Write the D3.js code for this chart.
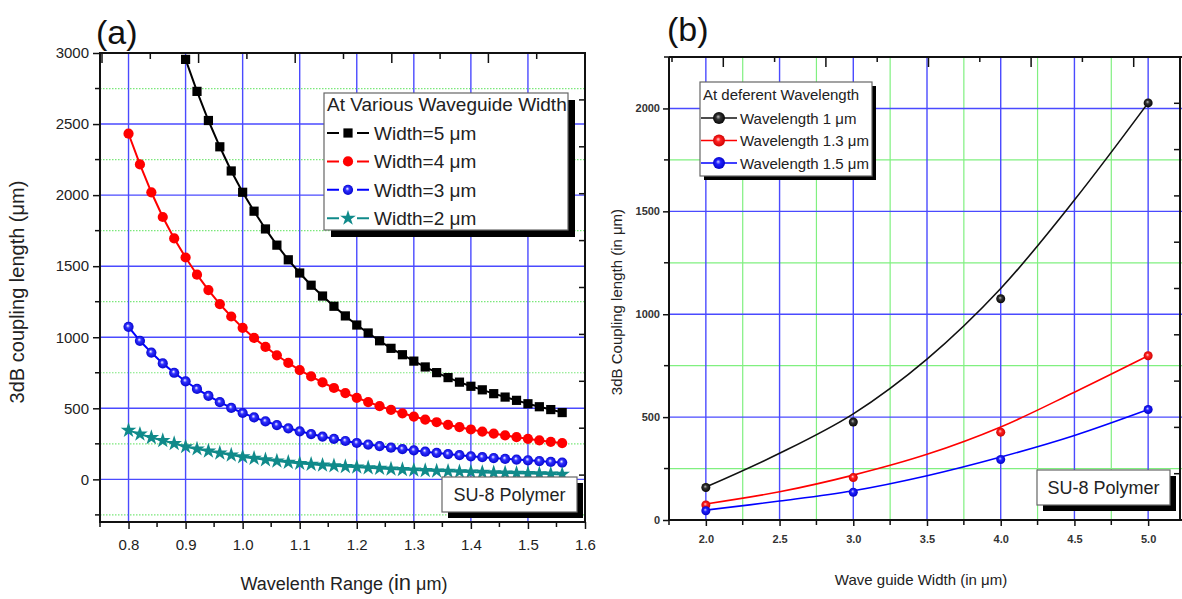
<!DOCTYPE html>
<html>
<head>
<meta charset="utf-8">
<script src="https://cdn.jsdelivr.net/npm/d3@7"></script>
<style>
  html, body { margin: 0; padding: 0; background: #fff; }
  svg { display: block; font-family: 'Liberation Sans', Arial, sans-serif; }
</style>
</head>
<body>
<svg id="chart" width="1182" height="599"></svg>
<script>
// ---------- panel (a) data: coupling length vs wavelength ----------
const wavelength = [0.80, 0.82, 0.84, 0.86, 0.88, 0.90, 0.92, 0.94, 0.96, 0.98,
                    1.00, 1.02, 1.04, 1.06, 1.08, 1.10, 1.12, 1.14, 1.16, 1.18,
                    1.20, 1.22, 1.24, 1.26, 1.28, 1.30, 1.32, 1.34, 1.36, 1.38,
                    1.40, 1.42, 1.44, 1.46, 1.48, 1.50, 1.52, 1.54, 1.56];
const width5 = [null, null, null, null, null, 2955, 2730, 2525, 2340, 2170,
                2020, 1887, 1762, 1648, 1545, 1452, 1366, 1290, 1218, 1150,
                1086, 1030, 975, 922, 877, 832, 791, 751, 716, 684,
                655, 630, 603, 579, 556, 532, 511, 491, 470];
const width4 = [2432, 2216, 2020, 1846, 1695, 1561, 1440, 1332, 1233, 1146,
                1066, 995, 932, 873, 819, 769, 724, 682, 643, 607,
                574, 544, 515, 489, 465, 442, 421, 402, 384, 367,
                351, 336, 322, 309, 297, 285, 274, 264, 255];
const width3 = [1073, 975, 892, 816, 750, 690, 636, 588, 543, 503,
                467, 436, 408, 382, 359, 338, 319, 301, 285, 270,
                256, 245, 234, 223, 213, 204, 195, 186, 178, 170,
                162, 156, 150, 144, 139, 134, 129, 123, 118];
const width2 = [345, 318, 294, 273, 252, 230, 214, 199, 185, 171,
                158, 148, 138, 129, 120, 112, 106, 100, 95, 90,
                86, 81, 77, 73, 69, 65, 62, 59, 57, 54,
                52, 49, 47, 45, 43, 41, 39, 37, 35];
const legendA = ['Width=5 \u03bcm', 'Width=4 \u03bcm', 'Width=3 \u03bcm', 'Width=2 \u03bcm'];
const xTicksA = [0.8, 0.9, 1.0, 1.1, 1.2, 1.3, 1.4, 1.5, 1.6];
const xMinorA = [0.75, 0.85, 0.95, 1.05, 1.15, 1.25, 1.35, 1.45, 1.55];
const yTicksA = [0, 500, 1000, 1500, 2000, 2500, 3000];
const yMinorA = [-250, 250, 750, 1250, 1750, 2250, 2750];

// ---------- panel (b) data: coupling length vs waveguide width ----------
const guideWidth = [2.0, 3.0, 4.0, 5.0];
const wl10 = [158, 476, 1075, 2027];
const wl13 = [73, 206, 427, 798];
const wl15 = [45, 135, 294, 537];
const fitWidth = [2.0, 2.5, 3.0, 3.5, 4.0, 4.5, 5.0];
const fit10 = [160, 324, 516, 782, 1125, 1555, 2027];
const fit13 = [78, 137, 218, 319, 452, 621, 798];
const fit15 = [48, 92, 142, 215, 306, 411, 537];
const legendB = ['Wavelength 1 \u03bcm', 'Wavelength 1.3 \u03bcm', 'Wavelength 1.5 \u03bcm'];
const xTicksB = [2.0, 2.5, 3.0, 3.5, 4.0, 4.5, 5.0];
const xMinorB = [1.75, 2.25, 2.75, 3.25, 3.75, 4.25, 4.75, 5.25];
const yTicksB = [0, 500, 1000, 1500, 2000];
const yMinorB = [250, 750, 1250, 1750, 2250];

const svg = d3.select('#chart');
const defs = svg.append('defs');

function ballGradient(id, hi, mid, edge) {
  const g = defs.append('radialGradient').attr('id', id)
    .attr('cx', '50%').attr('cy', '50%').attr('r', '55%').attr('fx', '42%').attr('fy', '38%');
  g.append('stop').attr('offset', '0%').attr('stop-color', hi);
  g.append('stop').attr('offset', '35%').attr('stop-color', mid);
  g.append('stop').attr('offset', '100%').attr('stop-color', edge);
}
ballGradient('ballBlueA', '#ffffff', '#3030ff', '#0000c8');
ballGradient('ballBlack', '#bbbbbb', '#333333', '#000000');
ballGradient('ballRed', '#ffd0d0', '#ff2020', '#c80000');
ballGradient('ballBlue', '#d0d0ff', '#2020ff', '#0000c0');

function clip(id, x0, y0, x1, y1) {
  defs.append('clipPath').attr('id', id).append('rect')
    .attr('x', x0).attr('y', y0).attr('width', x1 - x0).attr('height', y1 - y0);
}

function shadowBox(g, x, y, w, h, off) {
  g.append('rect').attr('x', x + off).attr('y', y + off).attr('width', w).attr('height', h).attr('fill', '#000');
  g.append('rect').attr('x', x).attr('y', y).attr('width', w).attr('height', h)
    .attr('fill', '#fff').attr('stroke', '#666').attr('stroke-width', 1.2);
}

function styleAxis(sel, size, color) {
  sel.select('.domain').remove();
  sel.selectAll('.tick line').attr('stroke', '#111').attr('stroke-width', 1.5);
  sel.selectAll('.tick text').attr('font-size', size).attr('fill', color)
    .attr('font-family', "'Liberation Sans', Arial, sans-serif");
}

// ================= panel (a) =================
const xA = d3.scaleLinear([0.75, 1.6], [100, 585]);
const yA = d3.scaleLinear([-300, 3000], [522, 53]);
clip('clipA', 100, 53, 585, 522);
const gA = svg.append('g');

// grid
gA.append('g').selectAll('line').data(yMinorA).join('line')
  .attr('x1', 100).attr('x2', 585).attr('y1', d => yA(d)).attr('y2', d => yA(d))
  .attr('stroke', '#7ae87a').attr('stroke-width', 1.2).attr('stroke-dasharray', '1.5,1.5');
gA.append('g').selectAll('line').data(yTicksA.slice(0, -1)).join('line')
  .attr('x1', 100).attr('x2', 585).attr('y1', d => yA(d)).attr('y2', d => yA(d))
  .attr('stroke', '#4a4aff').attr('stroke-width', 1.4);
gA.append('g').selectAll('line').data(xTicksA.slice(0, -1)).join('line')
  .attr('x1', d => xA(d)).attr('x2', d => xA(d)).attr('y1', 53).attr('y2', 522)
  .attr('stroke', '#4a4aff').attr('stroke-width', 1.4);

// series
const seriesA = [
  { vals: width5, color: '#000000', mark: 'square' },
  { vals: width4, color: '#ff0000', mark: 'circle' },
  { vals: width3, color: '#0000ff', mark: 'ball' },
  { vals: width2, color: '#108a8a', mark: 'star' }
];
const plotA = gA.append('g').attr('clip-path', 'url(#clipA)');

function drawMarkerA(sel, s, r) {
  if (s.mark === 'square') {
    sel.append('rect').attr('x', -r).attr('y', -r).attr('width', 2 * r).attr('height', 2 * r).attr('fill', s.color);
  } else if (s.mark === 'circle') {
    sel.append('circle').attr('r', r + 0.5).attr('fill', s.color);
  } else if (s.mark === 'ball') {
    sel.append('circle').attr('r', r + 0.5).attr('fill', 'url(#ballBlueA)');
  } else {
    sel.append('path').attr('d', d3.symbol(d3.symbolStar, r * r * 3.6)()).attr('fill', s.color);
  }
}

seriesA.forEach(s => {
  const pts = wavelength.map((w, i) => [w, s.vals[i]]).filter(p => p[1] != null);
  plotA.append('path').datum(pts)
    .attr('fill', 'none').attr('stroke', s.color).attr('stroke-width', 2)
    .attr('d', d3.line().x(d => xA(d[0])).y(d => yA(d[1])));
  plotA.append('g').selectAll('g').data(pts).join('g')
    .attr('transform', d => `translate(${xA(d[0])},${yA(d[1])})`)
    .each(function () { drawMarkerA(d3.select(this), s, 4.6); });
});

// frame
gA.append('rect').attr('x', 100).attr('y', 53).attr('width', 485).attr('height', 469)
  .attr('fill', 'none').attr('stroke', '#111').attr('stroke-width', 2);

// axes
const axBA = gA.append('g').attr('transform', 'translate(0,522)')
  .call(d3.axisBottom(xA).tickValues(xTicksA).tickSize(7).tickPadding(10).tickFormat(d3.format('.1f')));
styleAxis(axBA, 15, '#222');
gA.append('g').selectAll('line').data(xMinorA).join('line')
  .attr('x1', d => xA(d)).attr('x2', d => xA(d)).attr('y1', 522).attr('y2', 527)
  .attr('stroke', '#111').attr('stroke-width', 1.5);
const axLA = gA.append('g').attr('transform', 'translate(100,0)')
  .call(d3.axisLeft(yA).tickValues(yTicksA).tickSize(7).tickPadding(4).tickFormat(d3.format('d')));
styleAxis(axLA, 15, '#222');
gA.append('g').selectAll('line').data(yMinorA).join('line')
  .attr('x1', 95).attr('x2', 100).attr('y1', d => yA(d)).attr('y2', d => yA(d))
  .attr('stroke', '#111').attr('stroke-width', 1.5);

// mirrored top / right ticks
const topA = d3.scaleLinear([0, 10], [102, 585]);
gA.append('g').selectAll('line').data(d3.range(0, 11)).join('line')
  .attr('x1', d => topA(d)).attr('x2', d => topA(d)).attr('y1', 53).attr('y2', d => d % 2 ? 59 : 63)
  .attr('stroke', '#111').attr('stroke-width', 1.5);
const rightA = d3.scaleLinear([0, 10], [522, 53]);
gA.append('g').selectAll('line').data(d3.range(1, 10)).join('line')
  .attr('x1', 579).attr('x2', 585).attr('y1', d => rightA(d)).attr('y2', d => rightA(d))
  .attr('stroke', '#111').attr('stroke-width', 1.5);

// titles
svg.append('text').attr('x', 96).attr('y', 44).attr('font-size', 34).attr('fill', '#111').text('(a)');
svg.append('text').attr('transform', 'translate(24,292) rotate(-90)').attr('text-anchor', 'middle')
  .attr('font-size', 20).attr('fill', '#222').text('3dB coupling length (\u03bcm)');
const xtA = svg.append('text').attr('x', 344).attr('y', 590).attr('text-anchor', 'middle')
  .attr('font-size', 18).attr('fill', '#222');
xtA.append('tspan').text('Wavelenth Range (');
xtA.append('tspan').attr('font-size', 22).text('in');
xtA.append('tspan').text(' \u03bcm)');

// legend (a)
const lgA = svg.append('g');
shadowBox(lgA, 324, 93, 244, 137, 7);
lgA.append('text').attr('x', 327).attr('y', 111).attr('font-size', 19).attr('fill', '#222')
  .text('At Various Waveguide Width');
seriesA.forEach((s, i) => {
  const cy = 133 + i * 28.4;
  lgA.append('line').attr('x1', 327).attr('x2', 369).attr('y1', cy).attr('y2', cy)
    .attr('stroke', s.color).attr('stroke-width', 2);
  lgA.append('rect').attr('x', 339).attr('y', cy - 4).attr('width', 18).attr('height', 8).attr('fill', '#fff');
  const m = lgA.append('g').attr('transform', `translate(348,${cy})`);
  drawMarkerA(m, s, 4.6);
  lgA.append('text').attr('x', 374).attr('y', cy + 7).attr('font-size', 19).attr('fill', '#222').text(legendA[i]);
});

// SU-8 box (a)
const suA = svg.append('g');
shadowBox(suA, 442, 477, 135, 35, 6);
suA.append('text').attr('x', 509.5).attr('y', 501).attr('text-anchor', 'middle')
  .attr('font-size', 18).attr('fill', '#222').text('SU-8 Polymer');

// ================= panel (b) =================
const xB = d3.scaleLinear([1.75, 5.25], [669, 1185]);
const yB = d3.scaleLinear([0, 2250], [520, 57]);
clip('clipB', 669, 57, 1185, 520);
const gB = svg.append('g');

gB.append('g').selectAll('line').data(yMinorB.slice(0, -1)).join('line')
  .attr('x1', 669).attr('x2', 1185).attr('y1', d => yB(d)).attr('y2', d => yB(d))
  .attr('stroke', '#80f080').attr('stroke-width', 1.2);
gB.append('g').selectAll('line').data(xMinorB.slice(1, -1)).join('line')
  .attr('x1', d => xB(d)).attr('x2', d => xB(d)).attr('y1', 57).attr('y2', 520)
  .attr('stroke', '#80f080').attr('stroke-width', 1.2);
gB.append('g').selectAll('line').data(yTicksB.slice(1)).join('line')
  .attr('x1', 669).attr('x2', 1185).attr('y1', d => yB(d)).attr('y2', d => yB(d))
  .attr('stroke', '#4a4aff').attr('stroke-width', 1.4);
gB.append('g').selectAll('line').data(xTicksB).join('line')
  .attr('x1', d => xB(d)).attr('x2', d => xB(d)).attr('y1', 57).attr('y2', 520)
  .attr('stroke', '#4a4aff').attr('stroke-width', 1.4);

const seriesB = [
  { pts: wl10, fit: fit10, color: '#111111', ball: 'url(#ballBlack)' },
  { pts: wl13, fit: fit13, color: '#ff0000', ball: 'url(#ballRed)' },
  { pts: wl15, fit: fit15, color: '#0000ff', ball: 'url(#ballBlue)' }
];
const plotB = gB.append('g').attr('clip-path', 'url(#clipB)');
seriesB.forEach(s => {
  plotB.append('path').datum(fitWidth.map((w, i) => [w, s.fit[i]]))
    .attr('fill', 'none').attr('stroke', s.color).attr('stroke-width', 1.6)
    .attr('d', d3.line().curve(d3.curveCatmullRom).x(d => xB(d[0])).y(d => yB(d[1])));
  plotB.append('g').selectAll('circle').data(guideWidth.map((w, i) => [w, s.pts[i]])).join('circle')
    .attr('cx', d => xB(d[0])).attr('cy', d => yB(d[1])).attr('r', 4.5).attr('fill', s.ball);
});

// frame lines
gB.append('line').attr('x1', 669).attr('x2', 1185).attr('y1', 57).attr('y2', 57).attr('stroke', '#111').attr('stroke-width', 2);
gB.append('line').attr('x1', 669).attr('x2', 1185).attr('y1', 520).attr('y2', 520).attr('stroke', '#111').attr('stroke-width', 2);
gB.append('line').attr('x1', 669).attr('x2', 669).attr('y1', 57).attr('y2', 520).attr('stroke', '#111').attr('stroke-width', 2);
gB.append('line').attr('x1', 1180).attr('x2', 1180).attr('y1', 57).attr('y2', 520).attr('stroke', '#111').attr('stroke-width', 2);

const axBB = gB.append('g').attr('transform', 'translate(0,520)')
  .call(d3.axisBottom(xB).tickValues(xTicksB).tickSize(6).tickPadding(9).tickFormat(d3.format('.1f')));
styleAxis(axBB, 11, '#333');
axBB.selectAll('.tick text').attr('font-weight', 'bold');
gB.append('g').selectAll('line').data(xMinorB).join('line')
  .attr('x1', d => xB(d)).attr('x2', d => xB(d)).attr('y1', 520).attr('y2', 525)
  .attr('stroke', '#111').attr('stroke-width', 1.5);
const axLB = gB.append('g').attr('transform', 'translate(669,0)')
  .call(d3.axisLeft(yB).tickValues(yTicksB).tickSize(6).tickPadding(3).tickFormat(d3.format('d')));
styleAxis(axLB, 11, '#333');
axLB.selectAll('.tick text').attr('font-weight', 'bold');
gB.append('g').selectAll('line').data(yMinorB).join('line')
  .attr('x1', 664).attr('x2', 669).attr('y1', d => yB(d)).attr('y2', d => yB(d))
  .attr('stroke', '#111').attr('stroke-width', 1.5);

const topB = d3.scaleLinear([0, 10], [672, 1185]);
gB.append('g').selectAll('line').data(d3.range(0, 10)).join('line')
  .attr('x1', d => topB(d)).attr('x2', d => topB(d)).attr('y1', 57).attr('y2', d => d % 2 ? 67 : 62)
  .attr('stroke', '#111').attr('stroke-width', 1.5);
const rightB = d3.scaleLinear([0, 10], [520, 57]);
gB.append('g').selectAll('line').data(d3.range(1, 10)).join('line')
  .attr('x1', 1174).attr('x2', 1180).attr('y1', d => rightB(d)).attr('y2', d => rightB(d))
  .attr('stroke', '#111').attr('stroke-width', 1.5);

svg.append('text').attr('x', 667).attr('y', 41).attr('font-size', 34).attr('fill', '#111').text('(b)');
svg.append('text').attr('transform', 'translate(622,302) rotate(-90)').attr('text-anchor', 'middle')
  .attr('font-size', 15).attr('fill', '#222').text('3dB Coupling length (in \u03bcm)');
svg.append('text').attr('x', 921).attr('y', 585).attr('text-anchor', 'middle')
  .attr('font-size', 15).attr('fill', '#222').text('Wave guide Width (in \u03bcm)');

// legend (b)
const lgB = svg.append('g');
shadowBox(lgB, 700, 82, 172, 94, 4);
lgB.append('text').attr('x', 703).attr('y', 100).attr('font-size', 15).attr('fill', '#222')
  .text('At deferent Wavelength');
seriesB.forEach((s, i) => {
  const cy = 118 + i * 22.5;
  lgB.append('line').attr('x1', 701).attr('x2', 737).attr('y1', cy).attr('y2', cy)
    .attr('stroke', s.color).attr('stroke-width', 1.6);
  lgB.append('circle').attr('cx', 719).attr('cy', cy).attr('r', 6).attr('fill', s.ball);
  lgB.append('text').attr('x', 740).attr('y', cy + 5.5).attr('font-size', 15).attr('fill', '#222').text(legendB[i]);
});

// SU-8 box (b)
const suB = svg.append('g');
shadowBox(suB, 1037, 470, 133, 35, 6);
suB.append('text').attr('x', 1103.5).attr('y', 494).attr('text-anchor', 'middle')
  .attr('font-size', 18).attr('fill', '#222').text('SU-8 Polymer');
</script>
</body>
</html>
